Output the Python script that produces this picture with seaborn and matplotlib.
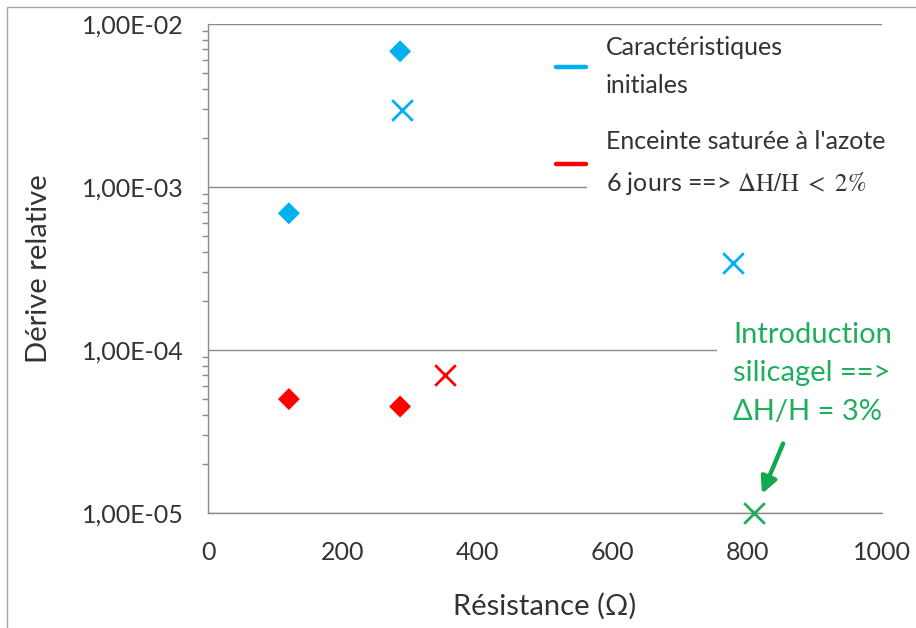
import matplotlib
matplotlib.use("Agg")
import matplotlib.pyplot as plt
from matplotlib.lines import Line2D
from matplotlib.patches import Rectangle
from matplotlib.ticker import FuncFormatter, LogLocator, NullFormatter
import pandas as pd
import seaborn as sns

# Valeurs
init_losange_x = [120, 285]
init_losange_y = [6.9e-4, 6.8e-3]
init_croix_x = [288, 779]
init_croix_y = [2.95e-3, 3.4e-4]

azote_losange_x = [120, 285]
azote_losange_y = [5.0e-5, 4.5e-5]
azote_croix_x = [352]
azote_croix_y = [7.0e-5]

silica_croix_x = [810]
silica_croix_y = [1.0e-5]

x_ticks = [0, 200, 400, 600, 800, 1000]
y_ticks = [1e-5, 1e-4, 1e-3, 1e-2]

BLEU = "#00B0F0"
ROUGE = "#FF0000"
VERT = "#1FAF5C"
GRIS = "#8a8a8a"
TEXTE = "#333333"

sns.set_theme(style="white")
plt.rcParams["font.family"] = ["Lato", "DejaVu Sans"]
plt.rcParams["mathtext.fontset"] = "stix"

groupes = [
    ("init", "D", BLEU, init_losange_x, init_losange_y),
    ("init", "x", BLEU, init_croix_x, init_croix_y),
    ("azote", "D", ROUGE, azote_losange_x, azote_losange_y),
    ("azote", "x", ROUGE, azote_croix_x, azote_croix_y),
    ("silica", "x", VERT, silica_croix_x, silica_croix_y),
]
lignes = []
for serie, marqueur, couleur, xs, ys in groupes:
    for x, y in zip(xs, ys):
        lignes.append({"resistance": x, "derive": y, "serie": serie,
                       "marqueur": marqueur, "couleur": couleur})
df = pd.DataFrame(lignes)

fig = plt.figure(figsize=(9.16, 6.28), dpi=100)
ax = fig.add_axes([208 / 916, 115 / 628, 674 / 916, 489 / 628])

for (serie, marqueur), sub in df.groupby(["serie", "marqueur"], sort=False):
    couleur = sub["couleur"].iloc[0]
    if marqueur == "D":
        sns.scatterplot(data=sub, x="resistance", y="derive", ax=ax,
                        marker="D", s=125, color=couleur, edgecolor="none",
                        zorder=3, clip_on=False, legend=False)
    else:
        sns.scatterplot(data=sub, x="resistance", y="derive", ax=ax,
                        marker="x", s=220, color=couleur, linewidth=2.0,
                        zorder=3, clip_on=False, legend=False)

ax.set_yscale("log")
ax.set_xlim(0, 1000)
ax.set_ylim(1e-5, 1e-2)
ax.set_xticks(x_ticks)
ax.set_yticks(y_ticks)
ax.yaxis.set_minor_locator(LogLocator(base=10, subs=range(2, 10)))
ax.yaxis.set_minor_formatter(NullFormatter())
ax.yaxis.set_major_formatter(
    FuncFormatter(lambda v, _: f"{v:.2E}".replace(".", ",")))

ax.yaxis.grid(True, which="major", color=GRIS, lw=1.0)
ax.set_axisbelow(True)

for cote in ["top", "right"]:
    ax.spines[cote].set_visible(False)
for cote in ["left", "bottom"]:
    ax.spines[cote].set_color(GRIS)
    ax.spines[cote].set_linewidth(1.0)

ax.tick_params(axis="y", which="major", direction="inout", length=9,
               width=1, color=GRIS, labelsize=18, labelcolor=TEXTE, pad=13)
ax.tick_params(axis="y", which="minor", direction="out", length=4,
               width=1, color=GRIS, left=True)
ax.tick_params(axis="x", which="major", direction="in", length=6,
               width=1, color="#404040", labelsize=18, labelcolor=TEXTE,
               pad=20)

ax.set_xlabel("Résistance (Ω)", fontsize=21, color=TEXTE)
ax.set_ylabel("Dérive relative", fontsize=21, color=TEXTE)
ax.xaxis.set_label_coords(0.5, -0.163)
ax.yaxis.set_label_coords(-0.232, 0.5)

# fond blanc de la légende qui masque la grille
ax.add_patch(Rectangle((0.5623, 0.60), 0.5, 0.36, transform=ax.transAxes,
                       facecolor="white", edgecolor="none", zorder=1,
                       clip_on=False))

poignees = [Line2D([], [], color=BLEU, lw=3.2),
            Line2D([], [], color=ROUGE, lw=3.2)]
etiquettes = ["Caractéristiques\ninitiales",
              "Enceinte saturée à l'azote\n"
              "6 jours ==> $\\Delta\\mathrm{H/H}\\ <\\ 2\\%$"]
leg = ax.legend(poignees, etiquettes, loc="upper left",
                bbox_to_anchor=(0.516, 0.976), borderaxespad=0, borderpad=0,
                frameon=False, fontsize=18, handlelength=1.2,
                handletextpad=0.8, labelspacing=1.35)
for t in leg.get_texts():
    t.set_linespacing(1.78)
    t.set_color(TEXTE)

ax.text(0.779, 0.39, "Introduction\nsilicagel ==>\nΔH/H = 3%",
        transform=ax.transAxes, ha="left", va="top", fontsize=21,
        color=VERT, linespacing=1.58, zorder=4,
        bbox=dict(boxstyle="square,pad=0.55", facecolor="white",
                  edgecolor="none"))

ax.annotate("", xy=(silica_croix_x[0], silica_croix_y[0]),
            xytext=(21, 50), textcoords="offset points",
            arrowprops=dict(arrowstyle="-|>", color="#12A84E", lw=3.2,
                            mutation_scale=24, shrinkA=0, shrinkB=15),
            annotation_clip=False)

fig.patches.append(Rectangle((7 / 916, -0.05), 1.1, 1 - 7 / 628 + 0.05,
                             transform=fig.transFigure, fill=False,
                             edgecolor="#a6a6a6", lw=1.0))

fig.savefig("out.png", dpi=100, facecolor="white")
